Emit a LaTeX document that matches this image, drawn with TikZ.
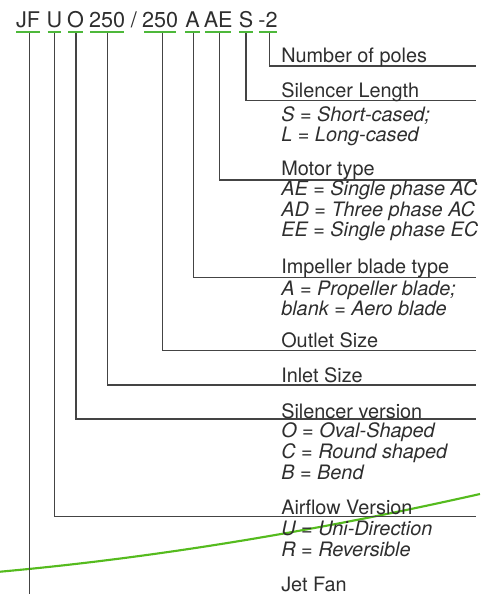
\documentclass[tikz,border=0pt]{standalone}
\usepackage{fontspec}
\setmainfont{TeX Gyre Heros}
\definecolor{txt}{HTML}{2E2E2E}
\definecolor{ln}{HTML}{444444}
\definecolor{grn}{HTML}{4DB83A}
\definecolor{crv}{HTML}{55BB1E}
\begin{document}
\begin{tikzpicture}[x=0.75pt,y=-0.75pt,
  code/.style={anchor=base,inner sep=0pt,text=txt,font=\fontsize{16.2}{17}\selectfont},
  lab/.style={anchor=base west,inner sep=0pt,text=txt,font=\fontsize{14.9}{16}\selectfont},
  opt/.style={anchor=base west,inner sep=0pt,text=txt,font=\fontsize{14.9}{16}\selectfont\itshape},
  uline/.style={draw=grn,line width=1.9pt},
  conn/.style={draw=ln,line width=0.8pt},
  curve/.style={draw=crv,line width=1.6pt}]
\useasboundingbox (0,0) rectangle (480,594);
% codes
\node[code] (c1) at (28,27) {JF};
\node[code] (c2) at (54.3,27) {U};
\node[code] (c3) at (75.5,27) {O};
\node[code] (c4) at (107.2,27) {250};
\node[code] (cs) at (134,27) {/};
\node[code] (c5) at (160.2,27) {250};
\node[code] (c6) at (192.5,27) {A};
\node[code] (c7) at (218.2,27) {AE};
\node[code] (c8) at (246,27) {S};
\node[code] (c9) at (268,27) {-2};
% underlines
\draw[uline] (16,32) -- (40,32);
\draw[uline] (47.7,32) -- (61,32);
\draw[uline] (68,32) -- (82.7,32);
\draw[uline] (90,32) -- (124.3,32);
\draw[uline] (144.3,32) -- (176,32);
\draw[uline] (185,32) -- (200,32);
\draw[uline] (205.3,32) -- (231,32);
\draw[uline] (239.3,32) -- (252.7,32);
\draw[uline] (259,32) -- (276.7,32);
% connector start points
\coordinate (u1) at (29.3,33);
\coordinate (u2) at (54.3,33);
\coordinate (u3) at (76,33);
\coordinate (u4) at (107.7,33);
\coordinate (u5) at (162.7,33);
\coordinate (u6) at (193.3,33);
\coordinate (u7) at (219.3,33);
\coordinate (u8) at (246,33);
\coordinate (u9) at (269.3,33);
% connector end points
\coordinate (e9) at (476,66);
\coordinate (e8) at (476,100.7);
\coordinate (e7) at (476,180);
\coordinate (e6) at (476,277.3);
\coordinate (e5) at (476,350.5);
\coordinate (e4) at (476,385);
\coordinate (e3) at (476,419);
\coordinate (e2) at (476,516.7);
\coordinate (e1) at (29.3,594);
% green curve (behind)
\draw[curve] (0,571.7) .. controls (160,557.3) and (320,530) .. (480,494);
% connectors
\draw[conn] (u9) |- (e9);
\draw[conn] (u8) |- (e8);
\draw[conn] (u7) |- (e7);
\draw[conn] (u6) |- (e6);
\draw[conn] (u5) |- (e5);
\draw[conn] (u4) |- (e4);
\draw[conn] (u3) |- (e3);
\draw[conn] (u2) |- (e2);
\draw[conn] (u1) -- (e1);
% labels
\node[lab] (l9) at (281,62.5) {Number of poles};
\node[lab] (l8) at (281,97) {Silencer Length};
\node[opt] (o81) at (281,121.7) {S = Short-cased;};
\node[opt] (o82) at (281,141.7) {L = Long-cased};
\node[lab] (l7) at (281,175) {Motor type};
\node[opt] (o71) at (281,195.5) {AE = Single phase AC};
\node[opt] (o72) at (281,216) {AD = Three phase AC};
\node[opt] (o73) at (281,236.5) {EE = Single phase EC};
\node[lab] (l6) at (281,273.5) {Impeller blade type};
\node[opt] (o61) at (281,295.5) {A = Propeller blade;};
\node[opt] (o62) at (281,315.5) {blank = Aero blade};
\node[lab] (l5) at (281,347.5) {Outlet Size};
\node[lab] (l4) at (281,382) {Inlet Size};
\node[lab] (l3) at (281,418) {Silencer version};
\node[opt] (o31) at (281,437) {O = Oval-Shaped};
\node[opt] (o32) at (281,458) {C = Round shaped};
\node[opt] (o33) at (281,479) {B = Bend};
\node[lab] (l2) at (281,514.5) {Airflow Version};
\node[opt] (o21) at (281,535.5) {U = Uni-Direction};
\node[opt] (o22) at (281,556) {R = Reversible};
\node[lab] (l1) at (281,591.5) {Jet Fan};
\end{tikzpicture}
\end{document}
